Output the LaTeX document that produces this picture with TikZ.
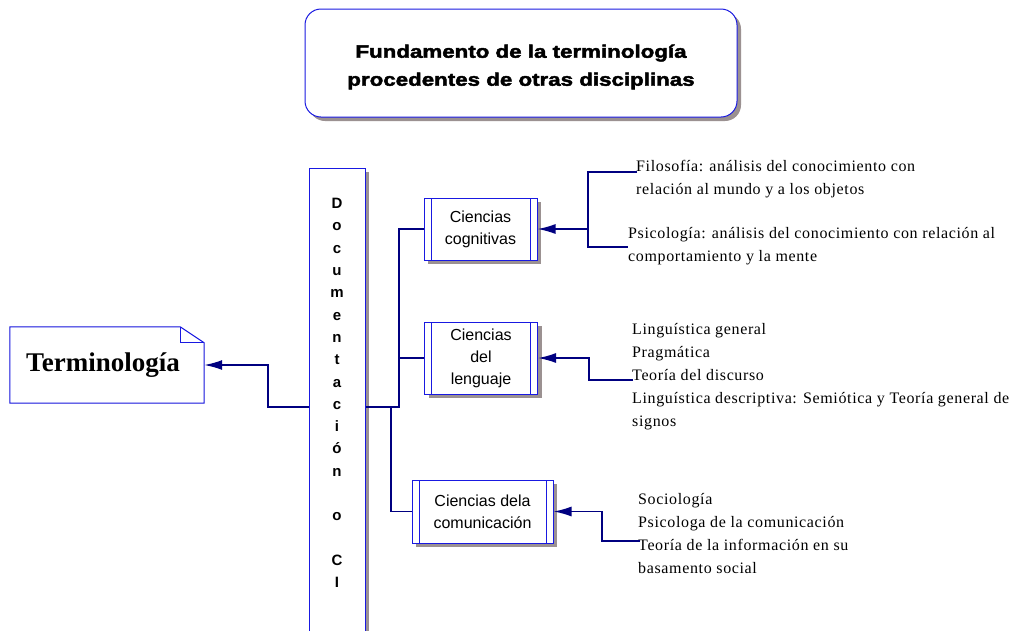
\documentclass[tikz,border=0pt]{standalone}
\usepackage{fontspec}
\setmainfont{Liberation Serif}
\setsansfont{Liberation Sans}
\newfontfamily\titulofont{Liberation Sans Bold}[FakeStretch=1.24, FakeBold=2.5]
\newfontfamily\listafont{Liberation Serif}[LetterSpace=4]
\usepackage{xcolor}
\usetikzlibrary{arrows.meta, positioning, shadows, backgrounds}

\definecolor{lineanavy}{RGB}{0,0,128}
\definecolor{bordeazul}{RGB}{25,25,225}
\definecolor{sombra}{RGB}{155,145,145}

\tikzset{
  caja/.style={draw=bordeazul, fill=white, line width=1pt, inner sep=0pt},
  sombreada/.style={general shadow={fill=sombra, shadow xshift=4pt, shadow yshift=-4pt}},
  proceso/.style={caja, sombreada, align=center,
    font=\sffamily\fontsize{16}{22}\selectfont,
    path picture={\draw[bordeazul, line width=1pt]
      ([xshift=7pt]path picture bounding box.north west) -- ([xshift=7pt]path picture bounding box.south west)
      ([xshift=-7pt]path picture bounding box.north east) -- ([xshift=-7pt]path picture bounding box.south east);}},
  lista/.style={anchor=north west, inner sep=0pt, align=left,
    font=\listafont\fontsize{16}{23}\selectfont},
  linea/.style={draw=lineanavy, line width=1.6pt},
  flecha/.style={linea, -{Latex[length=18pt,width=10pt]}},
}

\begin{document}
\begin{tikzpicture}[x=1pt, y=-1pt]
\useasboundingbox (0,0) rectangle (1015,630);

% titulo
\node[caja, sombreada, rounded corners=16pt, minimum width=432pt, minimum height=108pt] (titulo) at (521,63) {};
\node[align=center, inner sep=0pt, font=\titulofont\fontsize{18}{28}\selectfont] (titulotexto) at (521,67)
  {Fundamento de la terminología\\procedentes de otras disciplinas};

% nota
\node[minimum width=194pt, minimum height=76pt, inner sep=0pt,
  font=\bfseries\fontsize{27}{30}\selectfont] (term) at (107,365) {\hspace*{-8pt}Terminología};
\begin{scope}[on background layer]
\fill[sombra, xshift=4pt, yshift=-4pt] (term.south west) -- (term.north west)
  -- ([xshift=-24pt]term.north east) -- ([yshift=-16pt]term.north east)
  -- (term.south east) -- cycle;
\draw[bordeazul, fill=white, line width=1pt] (term.south west) -- (term.north west)
  -- ([xshift=-24pt]term.north east) -- ([yshift=-16pt]term.north east)
  -- (term.south east) -- cycle;
\draw[bordeazul, line width=1pt] ([xshift=-24pt]term.north east)
  -- ([xshift=-24pt, yshift=-16pt]term.north east) -- ([yshift=-16pt]term.north east);
\end{scope}

% columna
\node[caja, sombreada, minimum width=56pt, minimum height=472pt] (doc) at (337,404) {};
\node[align=center, inner sep=0pt, font=\sffamily\bfseries\fontsize{15}{22.3}\selectfont]
  (doctexto) at (337,393)
  {D\\o\\c\\u\\m\\e\\n\\t\\a\\c\\i\\ó\\n\\\mbox{}\\o\\\mbox{}\\C\\I};

% ciencias
\node[proceso, minimum width=113pt, minimum height=62pt] (cog) at (480.5,229) {Ciencias\\cognitivas};
\node[proceso, minimum width=113pt, minimum height=72pt] (len) at (481,358) {Ciencias\\del\\lenguaje};
\node[proceso, minimum width=141pt, minimum height=63pt] (com) at (482.5,511.5) {Ciencias dela\\comunicación};

% listas
\node[lista] (filo) at (636,160) {Filosofía: análisis del conocimiento con\\relación al mundo y a los objetos};
\node[lista] (psico) at (628,227) {Psicología: análisis del conocimiento con relación al\\comportamiento y la mente};
\node[lista] (lengua) at (632,323) {Linguística general\\Pragmática\\Teoría del discurso\\Linguística descriptiva: Semiótica y Teoría general de\\signos};
\node[lista] (comu) at (638,493) {Sociología\\Psicologa de la comunicación\\Teoría de la información en su\\basamento social};

% conectores
\coordinate (izq) at (268,407);
\coordinate (der) at (399,407);
\coordinate (bajo) at (391,407);
\draw[flecha] (doc.west |- izq) -- (izq) |- (term.east);
\draw[linea] (doc.east |- der) -- (der) |- (cog.west) (der |- len.west) -- (len.west);
\draw[linea] (bajo) |- (com.west);

\coordinate (filoc) at (637,172);
\coordinate (psicoc) at (628,247);
\coordinate (cogk) at (588,229);
\draw[linea] (filoc) -| (cogk) |- (psicoc);
\draw[flecha] (cogk) -- (cog.east);

\coordinate (teoc) at (633,380);
\coordinate (lenk) at (589,358);
\draw[flecha] (teoc) -| (lenk) -- (len.east);

\coordinate (infc) at (640,541);
\coordinate (comk) at (602,511.5);
\draw[flecha] (infc) -| (comk) -- (com.east);
\end{tikzpicture}
\end{document}
